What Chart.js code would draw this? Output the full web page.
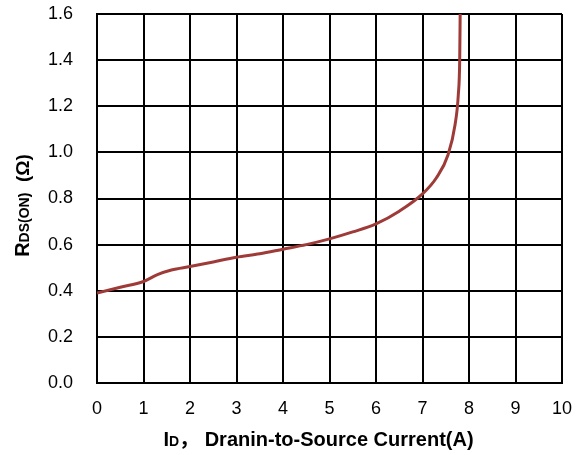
<!DOCTYPE html>
<html>
<head>
<meta charset="utf-8">
<script src="https://cdn.jsdelivr.net/npm/chart.js@4.4.0/dist/chart.umd.min.js"></script>
<style>
  html, body { margin: 0; padding: 0; background: #fff; }
  #wrap { width: 578px; height: 455px; }
</style>
</head>
<body>
<div id="wrap"><canvas id="c" width="578" height="455"></canvas></div>
<script>
  // curve: drain current (A) vs on-resistance (ohm)
  const currentA = [0, 0.5, 1, 1.3, 1.6, 2, 2.5, 3, 3.5, 4, 4.5, 5, 5.5, 6, 6.5, 7, 7.3, 7.55, 7.7, 7.77, 7.8, 7.81];
  const rdsOn = [0.39, 0.415, 0.44, 0.47, 0.49, 0.505, 0.525, 0.545, 0.56, 0.58, 0.6, 0.625, 0.655, 0.69, 0.745, 0.82, 0.89, 0.99, 1.12, 1.25, 1.4, 1.6];
  const xTicks = [0, 1, 2, 3, 4, 5, 6, 7, 8, 9, 10];
  const yTicks = [0, 0.2, 0.4, 0.6, 0.8, 1.0, 1.2, 1.4, 1.6];

  const FONT = "'Liberation Sans', Arial, sans-serif";
  const points = currentA.map((x, i) => ({ x, y: rdsOn[i] }));

  // titles with small-caps subscripts, drawn as runs of text
  const xTitleRuns = [["I", 20], ["D", 14], ["\uFF0C ", 20], ["Dranin-to-Source Current(A)", 20]];
  const yTitleRuns = [["R", 20], ["DS(ON)", 14], ["  (\u03A9)", 19]];

  function drawRuns(ctx, runs) {
    let total = 0;
    for (const [t, sz] of runs) {
      ctx.font = `bold ${sz}px ${FONT}, 'Noto Sans CJK SC'`;
      total += ctx.measureText(t).width;
    }
    let x = -total / 2;
    for (const [t, sz] of runs) {
      ctx.font = `bold ${sz}px ${FONT}, 'Noto Sans CJK SC'`;
      ctx.fillText(t, x, 0);
      x += ctx.measureText(t).width;
    }
  }

  const titles = {
    id: "titles",
    afterDraw(chart) {
      const { ctx, chartArea: a } = chart;
      ctx.save();
      ctx.fillStyle = "#000";
      ctx.textBaseline = "alphabetic";
      ctx.textAlign = "left";
      ctx.save();
      ctx.translate((a.left + a.right) / 2 - 11, a.bottom + 63);
      drawRuns(ctx, xTitleRuns);
      ctx.restore();
      ctx.save();
      ctx.translate(29, (a.top + a.bottom) / 2 + 7);
      ctx.rotate(-Math.PI / 2);
      drawRuns(ctx, yTitleRuns);
      ctx.restore();
      ctx.restore();
    }
  };

  new Chart(document.getElementById("c"), {
    type: "scatter",
    data: {
      datasets: [{
        data: points,
        showLine: true,
        borderColor: "#9e3b38",
        borderWidth: 3,
        pointRadius: 0,
        cubicInterpolationMode: "monotone",
        fill: false
      }]
    },
    options: {
      responsive: false,
      animation: false,
      layout: { padding: { left: 8, right: 16, top: 14, bottom: 0 } },
      plugins: { legend: { display: false }, tooltip: { enabled: false } },
      scales: {
        x: {
          type: "linear", min: 0, max: 10,
          afterBuildTicks: (s) => { s.ticks = xTicks.map(v => ({ value: v })); },
          afterFit: (s) => { s.height = 72; s.paddingLeft = 0; s.paddingRight = 0; },
          grid: { color: "#000", lineWidth: 2, drawTicks: false },
          border: { color: "#000", width: 2 },
          ticks: { color: "#000", font: { family: FONT, size: 18 }, padding: 15 }
        },
        y: {
          type: "linear", min: 0, max: 1.6,
          afterBuildTicks: (s) => { s.ticks = yTicks.map(v => ({ value: v })); },
          afterFit: (s) => { s.width = 89; s.paddingTop = 0; s.paddingBottom = 0; },
          grid: { color: "#000", lineWidth: 2, drawTicks: false },
          border: { color: "#000", width: 2 },
          ticks: {
            color: "#000", font: { family: FONT, size: 18 }, padding: 24,
            callback: (v) => Number(v).toFixed(1)
          }
        }
      }
    },
    plugins: [titles]
  });
</script>
</body>
</html>
